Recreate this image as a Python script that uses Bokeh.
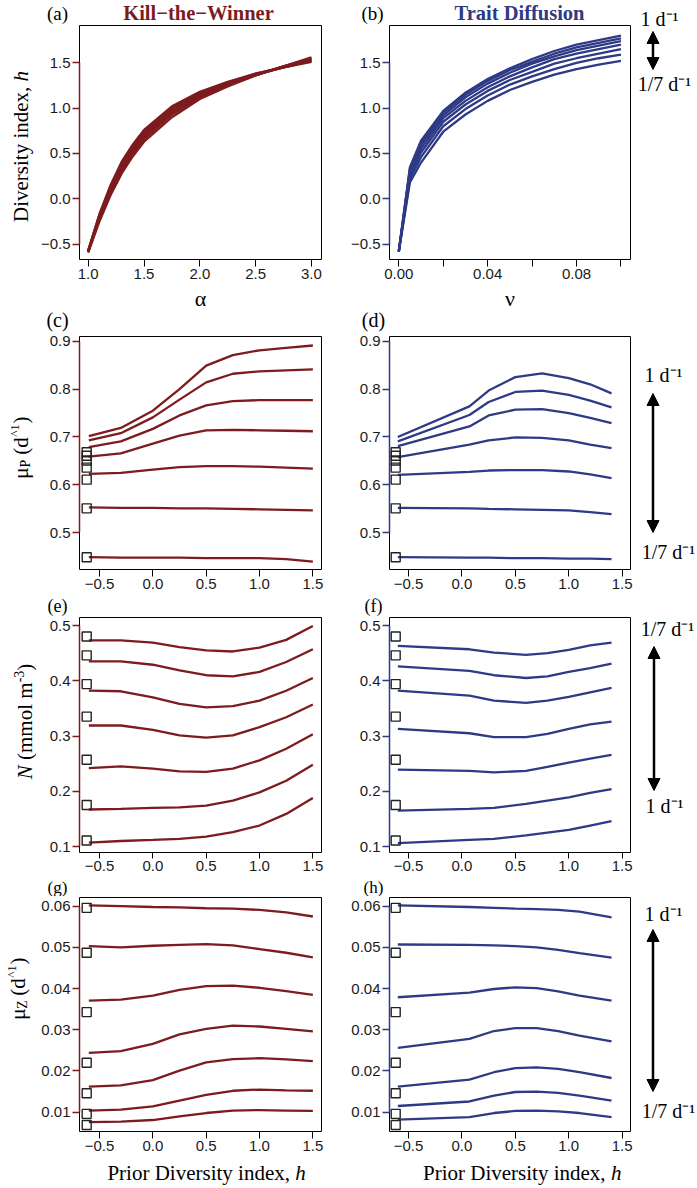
import math
from bokeh.plotting import figure
from bokeh.layouts import column, row
from bokeh.models import Label, Arrow, NormalHead, FixedTicker, Range1d, CustomJSTickFormatter
from bokeh.embed import file_html
from bokeh.resources import INLINE

# ---------------- data ----------------
# (a) Kill-the-Winner: diversity index vs alpha
alpha = [1.0, 1.1, 1.2, 1.3, 1.4, 1.5, 1.75, 2.0, 2.25, 2.5, 2.75, 3.0]
ktw_h = [
    [-0.57, -0.17, 0.15, 0.41, 0.60, 0.76, 1.02, 1.18, 1.29, 1.38, 1.45, 1.51],
    [-0.57, -0.18, 0.13, 0.39, 0.58, 0.74, 1.00, 1.17, 1.28, 1.38, 1.45, 1.52],
    [-0.58, -0.19, 0.12, 0.37, 0.56, 0.72, 0.99, 1.15, 1.27, 1.37, 1.45, 1.52],
    [-0.58, -0.21, 0.10, 0.35, 0.54, 0.70, 0.97, 1.14, 1.26, 1.37, 1.45, 1.53],
    [-0.58, -0.22, 0.08, 0.33, 0.52, 0.68, 0.95, 1.13, 1.26, 1.37, 1.46, 1.54],
    [-0.59, -0.23, 0.06, 0.31, 0.50, 0.66, 0.93, 1.12, 1.25, 1.36, 1.46, 1.55],
    [-0.59, -0.25, 0.04, 0.28, 0.47, 0.63, 0.90, 1.10, 1.24, 1.36, 1.46, 1.56],
]
# (b) Trait Diffusion: diversity index vs nu
nu = [0.0, 0.005, 0.01, 0.02, 0.03, 0.04, 0.05, 0.06, 0.07, 0.08, 0.09, 0.10]
td_h = [
    [-0.58, 0.18, 0.40, 0.74, 0.93, 1.08, 1.20, 1.29, 1.37, 1.43, 1.48, 1.52],
    [-0.58, 0.22, 0.46, 0.80, 0.99, 1.14, 1.26, 1.35, 1.43, 1.50, 1.55, 1.59],
    [-0.58, 0.26, 0.51, 0.85, 1.04, 1.19, 1.31, 1.40, 1.49, 1.55, 1.60, 1.65],
    [-0.58, 0.29, 0.55, 0.89, 1.08, 1.23, 1.35, 1.45, 1.54, 1.60, 1.65, 1.70],
    [-0.58, 0.31, 0.59, 0.92, 1.12, 1.27, 1.39, 1.49, 1.57, 1.64, 1.69, 1.74],
    [-0.58, 0.33, 0.62, 0.95, 1.15, 1.30, 1.42, 1.51, 1.60, 1.67, 1.72, 1.77],
    [-0.58, 0.35, 0.64, 0.97, 1.17, 1.32, 1.44, 1.54, 1.63, 1.70, 1.75, 1.80],
]
# prior diversity grids
prior_ktw = [-0.6, -0.3, 0.0, 0.25, 0.5, 0.75, 1.0, 1.25, 1.5]
prior_td_mup = [-0.6, 0.07, 0.25, 0.5, 0.75, 1.0, 1.2, 1.4]
prior_td_n = [-0.6, 0.07, 0.3, 0.6, 0.8, 1.0, 1.2, 1.4]
prior_td_muz = [-0.6, 0.07, 0.3, 0.5, 0.7, 0.9, 1.1, 1.4]

# (c) KTW mu_P
ktw_mup = [
    [0.702, 0.719, 0.755, 0.800, 0.849, 0.871, 0.881, 0.886, 0.891],
    [0.693, 0.708, 0.741, 0.778, 0.814, 0.832, 0.837, 0.839, 0.841],
    [0.679, 0.691, 0.717, 0.745, 0.766, 0.775, 0.777, 0.777, 0.777],
    [0.659, 0.666, 0.686, 0.703, 0.714, 0.715, 0.714, 0.713, 0.712],
    [0.623, 0.625, 0.632, 0.637, 0.639, 0.639, 0.638, 0.636, 0.634],
    [0.553, 0.552, 0.552, 0.551, 0.551, 0.550, 0.549, 0.548, 0.547],
    [0.449, 0.448, 0.448, 0.448, 0.447, 0.447, 0.447, 0.445, 0.440],
]
# (d) TD mu_P
td_mup = [
    [0.700, 0.764, 0.797, 0.825, 0.833, 0.823, 0.810, 0.791],
    [0.691, 0.746, 0.773, 0.794, 0.797, 0.788, 0.776, 0.762],
    [0.681, 0.722, 0.745, 0.757, 0.758, 0.750, 0.740, 0.729],
    [0.658, 0.684, 0.693, 0.699, 0.698, 0.693, 0.684, 0.677],
    [0.621, 0.627, 0.630, 0.631, 0.631, 0.628, 0.622, 0.614],
    [0.552, 0.551, 0.550, 0.549, 0.548, 0.547, 0.543, 0.539],
    [0.449, 0.448, 0.448, 0.447, 0.447, 0.446, 0.446, 0.445],
]
# (e) KTW N
ktw_n = [
    [0.473, 0.473, 0.469, 0.461, 0.455, 0.453, 0.460, 0.474, 0.499],
    [0.435, 0.435, 0.429, 0.419, 0.410, 0.408, 0.416, 0.434, 0.457],
    [0.382, 0.381, 0.370, 0.358, 0.352, 0.354, 0.364, 0.382, 0.405],
    [0.319, 0.319, 0.311, 0.301, 0.297, 0.301, 0.316, 0.334, 0.357],
    [0.242, 0.245, 0.241, 0.236, 0.235, 0.241, 0.256, 0.277, 0.303],
    [0.167, 0.168, 0.170, 0.171, 0.174, 0.183, 0.198, 0.219, 0.248],
    [0.107, 0.110, 0.112, 0.114, 0.118, 0.126, 0.138, 0.159, 0.188],
]
# (f) TD N
td_n = [
    [0.463, 0.457, 0.451, 0.447, 0.450, 0.456, 0.464, 0.469],
    [0.426, 0.418, 0.410, 0.405, 0.408, 0.416, 0.423, 0.431],
    [0.382, 0.373, 0.364, 0.360, 0.364, 0.371, 0.379, 0.387],
    [0.313, 0.305, 0.298, 0.298, 0.304, 0.313, 0.321, 0.326],
    [0.239, 0.237, 0.234, 0.237, 0.244, 0.252, 0.259, 0.266],
    [0.165, 0.168, 0.170, 0.177, 0.183, 0.189, 0.197, 0.204],
    [0.106, 0.112, 0.114, 0.120, 0.125, 0.130, 0.138, 0.146],
]
# (g) KTW mu_Z
ktw_muz = [
    [0.0602, 0.0600, 0.0598, 0.0597, 0.0595, 0.0594, 0.0591, 0.0585, 0.0575],
    [0.0503, 0.0500, 0.0504, 0.0506, 0.0508, 0.0505, 0.0496, 0.0487, 0.0476],
    [0.0371, 0.0373, 0.0383, 0.0397, 0.0406, 0.0407, 0.0402, 0.0394, 0.0385],
    [0.0244, 0.0248, 0.0266, 0.0289, 0.0302, 0.0310, 0.0308, 0.0302, 0.0296],
    [0.0162, 0.0165, 0.0178, 0.0201, 0.0221, 0.0229, 0.0231, 0.0228, 0.0224],
    [0.0104, 0.0106, 0.0114, 0.0128, 0.0142, 0.0152, 0.0155, 0.0153, 0.0152],
    [0.0076, 0.0077, 0.0081, 0.0090, 0.0098, 0.0104, 0.0105, 0.0104, 0.0103],
]
# (h) TD mu_Z
td_muz = [
    [0.0602, 0.0598, 0.0596, 0.0594, 0.0593, 0.0591, 0.0587, 0.0573],
    [0.0507, 0.0506, 0.0505, 0.0503, 0.0500, 0.0494, 0.0486, 0.0475],
    [0.0379, 0.0390, 0.0399, 0.0403, 0.0401, 0.0393, 0.0383, 0.0371],
    [0.0256, 0.0278, 0.0297, 0.0304, 0.0304, 0.0297, 0.0286, 0.0272],
    [0.0162, 0.0179, 0.0197, 0.0207, 0.0209, 0.0205, 0.0197, 0.0183],
    [0.0115, 0.0126, 0.0140, 0.0149, 0.0150, 0.0147, 0.0140, 0.0128],
    [0.0082, 0.0088, 0.0098, 0.0103, 0.0104, 0.0102, 0.0098, 0.0088],
]
# open squares (no-diversity reference values)
square_h = -0.62
sq_mup = [0.449, 0.551, 0.611, 0.636, 0.651, 0.661, 0.668]
sq_n = [0.480, 0.446, 0.394, 0.335, 0.257, 0.175, 0.111]
sq_muz = [0.0596, 0.0487, 0.0343, 0.0220, 0.0146, 0.0096, 0.0069]

# ticks
alpha_ticks = [1.0, 1.5, 2.0, 2.5, 3.0]
alpha_labels = ["1.0", "1.5", "2.0", "2.5", "3.0"]
nu_ticks = [0.0, 0.02, 0.04, 0.06, 0.08, 0.10]
nu_labels = ["0.00", "", "0.04", "", "0.08", ""]
h_ticks = [-0.5, 0.0, 0.5, 1.0, 1.5]
h_labels = ["\u22120.5", "0.0", "0.5", "1.0", "1.5"]
mup_ticks = [0.5, 0.6, 0.7, 0.8, 0.9]
mup_labels = ["0.5", "0.6", "0.7", "0.8", "0.9"]
n_ticks = [0.1, 0.2, 0.3, 0.4, 0.5]
n_labels = ["0.1", "0.2", "0.3", "0.4", "0.5"]
muz_ticks = [0.01, 0.02, 0.03, 0.04, 0.05, 0.06]
muz_labels = ["0.01", "0.02", "0.03", "0.04", "0.05", "0.06"]

# ---------------- styling / layout ----------------
RED = "#7d1b1e"
BLUE = "#2e3a85"
SERIF = "Liberation Serif"
SANS = "Liberation Sans"

PAGE_X0, PAGE_Y0 = 0, 0   # Bokeh's page template has no body margin
LEFT_W = 36               # strip for rotated y labels
RIGHT_W = 60              # strip for the rate arrows
COL_BL = [43, 59]
COL_W = [242, 241]
COL_BR = [9, 5]
MID_X0 = PAGE_X0 + LEFT_W
MID_W = sum(COL_BL) + sum(COL_W) + sum(COL_BR)
HEAD_H = [24, 47, 21, 19, 29]
ROW_H = [234, 233, 235, 234]
ROW_BT = [1, 4, 1, 1]
ROW_BB = [26, 26, 25, 26]
TICK_OUT = [7, 7, 6, 7]
TOTAL_H = sum(HEAD_H) + sum(ROW_H) + sum(ROW_BT) + sum(ROW_BB)
# value at the top of each frame and pixels per data unit of each row
ROW_TOP_VAL = [1.911, 0.9098, 0.5145, 0.06211]
ROW_PPU = [90.7, 479.0, 552.5, 4120.0]


def yrange(r):
    return (ROW_TOP_VAL[r] - ROW_H[r] / ROW_PPU[r], ROW_TOP_VAL[r])


def fmt(ticks, labels):
    return CustomJSTickFormatter(
        args=dict(tv=ticks, tl=labels),
        code="for (let i = 0; i < tv.length; i++) { if (Math.abs(tv[i] - tick) < 1e-9) { return tl[i]; } } return '';",
    )


def make_fig(r, c, xr, xt, xl, yt, yl, color):
    p = figure(frame_width=COL_W[c], frame_height=ROW_H[r],
               x_range=Range1d(*xr), y_range=Range1d(*yrange(r)),
               output_backend="svg", toolbar_location=None,
               min_border_left=COL_BL[c], min_border_right=COL_BR[c],
               min_border_top=ROW_BT[r], min_border_bottom=ROW_BB[r])
    p.grid.visible = False
    p.outline_line_color = "black"
    p.outline_line_width = 1
    p.outline_line_alpha = 1
    p.background_fill_color = "white"
    p.border_fill_color = "white"
    xa = p.xaxis[0]
    ya = p.yaxis[0]
    xa.ticker = FixedTicker(ticks=xt)
    xa.formatter = fmt(xt, xl)
    ya.ticker = FixedTicker(ticks=yt)
    ya.formatter = fmt(yt, yl)
    for ax in (xa, ya):
        ax.major_tick_out = 7
        ax.major_tick_in = 0
        ax.minor_tick_line_color = None
        ax.major_label_text_font = SANS
        ax.major_label_text_font_size = "15px"
        ax.major_label_text_color = "#1a1a1a"
        ax.major_label_standoff = 2
    xa.major_tick_out = TICK_OUT[r]
    xa.axis_line_color = None
    xa.major_tick_line_color = "black"
    ya.axis_line_color = color
    ya.axis_line_width = 1.5
    ya.major_tick_line_color = color
    ya.major_tick_line_width = 1.3
    ya.bounds = (min(yt), max(yt))
    return p


def strip(w, h, ox, oy):
    s = figure(width=w, height=h, x_range=Range1d(0, w), y_range=Range1d(h, 0),
               min_border=0, toolbar_location=None, output_backend="svg",
               x_axis_type=None, y_axis_type=None)
    s.outline_line_color = None
    s.background_fill_color = "white"
    s.border_fill_color = "white"
    s._origin = (ox, oy)
    return s


def put(s, px, py, text, size, color="black", font=SERIF, style="normal",
        angle=0.0, align="center", baseline="middle"):
    ox, oy = s._origin
    s.add_layout(Label(x=px - ox, y=py - oy, text=text, text_font=font,
                       text_font_size=f"{size}px", text_font_style=style,
                       text_color=color, angle=angle, text_align=align,
                       text_baseline=baseline))


def arrow(s, px, py0, py1):
    ox, oy = s._origin
    s.add_layout(Arrow(start=NormalHead(size=12, fill_color="black", line_color="black"),
                       end=NormalHead(size=12, fill_color="black", line_color="black"),
                       x_start=px - ox, y_start=py0 - oy, x_end=px - ox, y_end=py1 - oy,
                       line_width=2.5, line_color="black"))


def curves(p, xs, ys_list, color):
    for ys in ys_list:
        p.line(xs, ys, line_color=color, line_width=2.3)


def squares(p, ys):
    p.scatter([square_h] * len(ys), ys, marker="square", size=9,
              fill_color=None, line_color="#222222", line_width=1.4)


ROT = math.pi / 2
D1 = "1 d\u207b\u00b9"
D7 = "1/7 d\u207b\u00b9"

# page y of each text strip
head_top = []
y0 = PAGE_Y0
for i in range(5):
    head_top.append(y0)
    y0 += HEAD_H[i]
    if i < 4:
        y0 += ROW_BT[i] + ROW_H[i] + ROW_BB[i]

XR_ALPHA = (0.922, 3.09)
XR_NU = (-0.00419, 0.1043)
XR_L = (-0.6875, 1.581)
XR_R = (-0.678, 1.5776)

# ---- plots ----
pa = make_fig(0, 0, XR_ALPHA, alpha_ticks, alpha_labels, h_ticks, h_labels, RED)
curves(pa, alpha, ktw_h, RED)
pb = make_fig(0, 1, XR_NU, nu_ticks, nu_labels, h_ticks, h_labels, BLUE)
curves(pb, nu, td_h, BLUE)

pc = make_fig(1, 0, XR_L, h_ticks, h_labels, mup_ticks, mup_labels, RED)
curves(pc, prior_ktw, ktw_mup, RED)
squares(pc, sq_mup)
pd_ = make_fig(1, 1, XR_R, h_ticks, h_labels, mup_ticks, mup_labels, BLUE)
curves(pd_, prior_td_mup, td_mup, BLUE)
squares(pd_, sq_mup)

pe = make_fig(2, 0, XR_L, h_ticks, h_labels, n_ticks, n_labels, RED)
curves(pe, prior_ktw, ktw_n, RED)
squares(pe, sq_n)
pf = make_fig(2, 1, XR_R, h_ticks, h_labels, n_ticks, n_labels, BLUE)
curves(pf, prior_td_n, td_n, BLUE)
squares(pf, sq_n)

pg = make_fig(3, 0, XR_L, h_ticks, h_labels, muz_ticks, muz_labels, RED)
curves(pg, prior_ktw, ktw_muz, RED)
squares(pg, sq_muz)
ph = make_fig(3, 1, XR_R, h_ticks, h_labels, muz_ticks, muz_labels, BLUE)
curves(ph, prior_td_muz, td_muz, BLUE)
squares(ph, sq_muz)

# ---- text strips between plot rows ----
h0 = strip(MID_W, HEAD_H[0], MID_X0, head_top[0])
put(h0, 57, 13, "(a)", 19)
put(h0, 372, 13, "(b)", 19)
put(h0, 198, 12, "Kill\u2212the\u2212Winner", 20.5, color=RED, style="bold")
put(h0, 519, 12, "Trait Diffusion", 20.5, color=BLUE, style="bold")

h1 = strip(MID_W, HEAD_H[1], MID_X0, head_top[1])
put(h1, 200, 298, "\u03b1", 22)
put(h1, 509.5, 298, "\u03bd", 22)
put(h1, 57, 319, "(c)", 20)
put(h1, 373, 319, "(d)", 20)

h2 = strip(MID_W, HEAD_H[2], MID_X0, head_top[2])
put(h2, 57, 605.5, "(e)", 18)
put(h2, 373, 605.5, "(f)", 18)

h3 = strip(MID_W, HEAD_H[3], MID_X0, head_top[3])
put(h3, 57, head_top[3] + HEAD_H[3] / 2, "(g)", 17)
put(h3, 373, head_top[3] + HEAD_H[3] / 2, "(h)", 17)

h4 = strip(MID_W, HEAD_H[4], MID_X0, head_top[4])
put(h4, 106.9, 1172, "Prior Diversity index,", 21, align="left")
put(h4, 294.7, 1172, "h", 21, align="left", style="italic")
put(h4, 422.5, 1172, "Prior Diversity index,", 21, align="left")
put(h4, 610.4, 1172, "h", 21, align="left", style="italic")

# ---- left strip: rotated y-axis titles ----
ls = strip(LEFT_W, TOTAL_H, PAGE_X0, PAGE_Y0)
put(ls, 20, 153.8, "Diversity index,", 21, angle=ROT)
put(ls, 20, 75.7, "h", 21, angle=ROT, style="italic")
C, X = 447, 20
put(ls, X, C + 25.5, "\u03bc", 22, angle=ROT)
put(ls, X + 5, C + 16, "P", 14, angle=ROT)
put(ls, X, C - 1.5, "(d", 21, angle=ROT)
put(ls, X - 6, C - 17, "^1", 13, angle=ROT)
put(ls, X, C - 27.4, ")", 21, angle=ROT)
X = 24
put(ls, X, 771.7, "N", 21, angle=ROT, style="italic")
put(ls, X, 720.7, "(mmol m", 21, angle=ROT)
put(ls, X - 6, 676, "-3", 14, angle=ROT)
put(ls, X, 666.7, ")", 21, angle=ROT)
C, X = 988, 17
put(ls, X, C + 25.5, "\u03bc", 22, angle=ROT)
put(ls, X + 5, C + 16, "Z", 14, angle=ROT)
put(ls, X, C - 1.5, "(d", 21, angle=ROT)
put(ls, X - 6, C - 17, "^1", 13, angle=ROT)
put(ls, X, C - 27.4, ")", 21, angle=ROT)

# ---- right strip: rate arrows ----
rs = strip(RIGHT_W, TOTAL_H, MID_X0 + MID_W, PAGE_Y0)
put(rs, 659, 18, D1, 20)
arrow(rs, 652.5, 31, 69)
put(rs, 664, 83, D7, 20)
put(rs, 663, 374, D1, 20)
arrow(rs, 652.5, 393, 532)
put(rs, 668, 551, D7, 20)
put(rs, 667, 628, D7, 20)
arrow(rs, 653.5, 646, 790)
put(rs, 664, 805, D1, 20)
put(rs, 663, 913, D1, 20)
arrow(rs, 652.5, 929, 1091)
put(rs, 668, 1110, D7, 20)

middle = column(h0, row(pa, pb), h1, row(pc, pd_), h2, row(pe, pf), h3, row(pg, ph), h4)
layout = row(ls, middle, rs)
open("out.html", "w").write(file_html(layout, INLINE))
